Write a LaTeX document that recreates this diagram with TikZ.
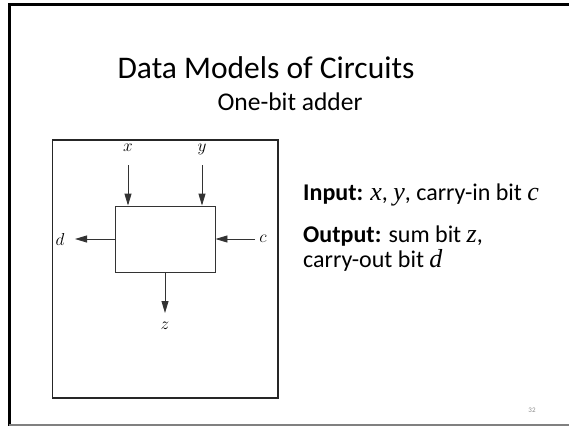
\documentclass[tikz,border=0pt]{standalone}
\usepackage{fontspec}
\setmainfont{Carlito}
\newfontfamily\serifit{Liberation Serif}[ItalicFont={Liberation Serif Italic}]
\newcommand{\mv}[1]{{\fontsize{26}{26}\selectfont\serifit\itshape #1}}
\usetikzlibrary{arrows.meta}
\begin{document}
\begin{tikzpicture}[x=1pt,y=-1pt,
  frame/.style={line width=2.6pt,black},
  scanframe/.style={line width=1.4pt,black!85},
  adder/.style={draw=black!80,line width=0.9pt,minimum width=100pt,minimum height=66pt,inner sep=0pt},
  sig/.style={draw=black!80,line width=0.9pt,-{Triangle[length=12pt,width=7pt]}},
  lbl/.style={inner sep=0pt,font=\fontsize{17}{19}\selectfont},
  txt/.style={anchor=base west,inner sep=0pt,font=\fontsize{24}{26}\selectfont}]
\useasboundingbox (0,0) rectangle (569,426);
% slide frame
\draw[frame] (569,4.5) -- (9.5,4.5) -- (9.5,426);
\draw[line width=1.5pt,black!50] (9,425) -- (569,425);
% titles
\node[inner sep=0pt,font=\fontsize{31.5}{36}\selectfont] (title) at (266,68) {Data Models of Circuits};
\node[inner sep=0pt,font=\fontsize{25.5}{30}\selectfont] (sub) at (290,102) {One-bit adder};
% scanned figure frame
\draw[scanframe] (52.5,140) rectangle (278,398);
% adder
\node[adder] (box) at (165,239) {};
\node[lbl] (x) at (128,148) {$x$};
\node[lbl] (y) at (202,149) {$y$};
\node[lbl] (d) at (60,239) {$d$};
\node[lbl] (c) at (263,239) {$c$};
\node[lbl] (z) at (165,326) {$z$};
\coordinate (xs) at (128,165);
\coordinate (ys) at (202,165);
\coordinate (de) at (75,239);
\coordinate (cs) at (255,239);
\coordinate (ze) at (165,313);
\draw[sig] (xs) -- (box.north -| xs);
\draw[sig] (ys) -- (box.north -| ys);
\draw[sig] (box.west) -- (de);
\draw[sig] (cs) -- (box.east);
\draw[sig] (box.south) -- (ze);
% text
\node[txt] (in) at (303,200) {\textbf{Input:} \mv{x}, \mv{y}, carry-in bit \mv{c}};
\node[txt] (out) at (303,242) {\textbf{Output:} sum bit \mv{z},};
\node[txt] (out2) at (303,267) {carry-out bit \mv{d}};
\node[inner sep=0pt,text=black!45,font=\fontsize{7}{8}\selectfont] (num) at (532,410) {32};
\end{tikzpicture}
\end{document}
